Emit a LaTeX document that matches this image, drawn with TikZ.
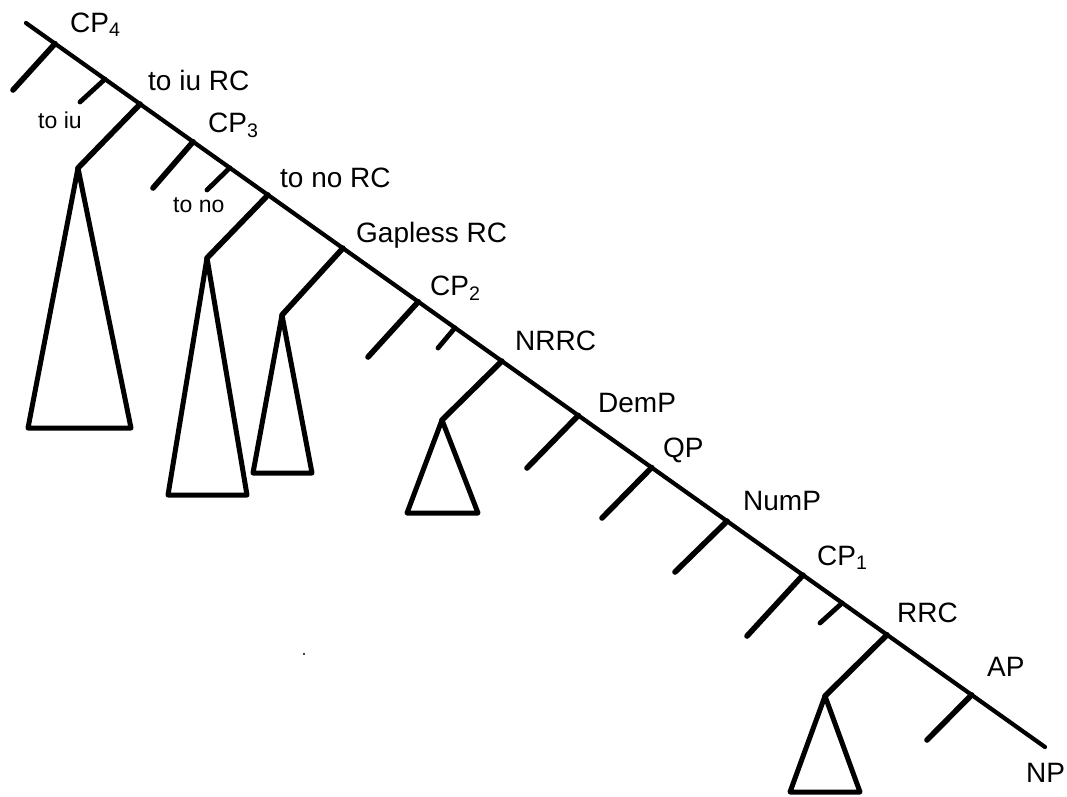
\documentclass[tikz,border=0pt]{standalone}
\usepackage{fontspec}
\setmainfont{Liberation Sans}
\usetikzlibrary{calc}
\begin{document}
\begin{tikzpicture}[x=1pt,y=-1pt,
  spine/.style={line width=4.2pt,line cap=round},
  branch/.style={line width=5.6pt,line cap=round},
  twig/.style={line width=4.8pt,line cap=round},
  tri/.style={line width=5pt,line join=round,line cap=round},
  lab/.style={anchor=base west,inner sep=0pt,font=\fontsize{28}{31}\selectfont},
  slab/.style={anchor=base west,inner sep=0pt,font=\fontsize{23}{26}\selectfont}]
\useasboundingbox (0,0) rectangle (1067,796);

% main spine of the tree
\coordinate (top) at (26,23);
\coordinate (bot) at (1045,747);
\draw[spine] (top) -- (bot);

% attachment points along the spine
\foreach \n/\t in {j1/0.0285,j2/0.0775,j3/0.112,j4/0.164,j5/0.200,j6/0.2375,
  j7/0.311,j8/0.385,j9/0.421,j10/0.467,j11/0.542,j12/0.614,j13/0.688,
  j14/0.7625,j15/0.801,j16/0.845,j17/0.928}
  \coordinate (\n) at ($(top)!\t!(bot)$);

% free ends of the left branches
\coordinate (e1) at (13,90);
\coordinate (e2) at (80,102);
\coordinate (e3) at (78,168);
\coordinate (e4) at (153,188);
\coordinate (e5) at (207,190);
\coordinate (e6) at (207,258);
\coordinate (e7) at (282,315);
\coordinate (e8) at (368,357);
\coordinate (e9) at (438,348);
\coordinate (e10) at (442,420);
\coordinate (e11) at (527,468);
\coordinate (e12) at (602,518);
\coordinate (e13) at (675,572);
\coordinate (e14) at (747,636);
\coordinate (e15) at (820,623);
\coordinate (e16) at (825,696);
\coordinate (e17) at (927,740);

% branches
\foreach \i in {1,3,4,6,7,8,10,11,12,13,14,16,17}
  \draw[branch] (j\i) -- (e\i);
\foreach \i in {2,5,9,15}
  \draw[twig] (j\i) -- (e\i);

% triangles hanging from the phrase branches
\draw[tri] (e3) -- (28,428) -- (131,428) -- cycle;
\draw[tri] (e6) -- (168,495) -- (247,495) -- cycle;
\draw[tri] (e7) -- (253,473) -- (312,473) -- cycle;
\draw[tri] (e10) -- (407,513) -- (478,513) -- cycle;
\draw[tri] (e16) -- (790,792) -- (860,792) -- cycle;

% stray dot
\fill (304,654) circle (1.1);

% labels
\node[lab]  (cp4)   at (70,32)   {CP\textsubscript{4}};
\node[lab]  (toiurc) at (148,90) {to iu RC};
\node[slab] (toiu)  at (38,128)  {to iu};
\node[lab]  (cp3)   at (208,132) {CP\textsubscript{3}};
\node[lab]  (tonorc) at (280,187) {to no RC};
\node[slab] (tono)  at (173,212) {to no};
\node[lab]  (gap)   at (356,242) {Gapless RC};
\node[lab]  (cp2)   at (430,295) {CP\textsubscript{2}};
\node[lab]  (nrrc)  at (515,350) {NRRC};
\node[lab]  (demp)  at (598,412) {DemP};
\node[lab]  (qp)    at (663,457) {QP};
\node[lab]  (nump)  at (743,510) {NumP};
\node[lab]  (cp1)   at (817,565) {CP\textsubscript{1}};
\node[lab]  (rrc)   at (897,622) {RRC};
\node[lab]  (ap)    at (987,676) {AP};
\node[lab]  (np)    at (1026,782) {NP};
\end{tikzpicture}
\end{document}
